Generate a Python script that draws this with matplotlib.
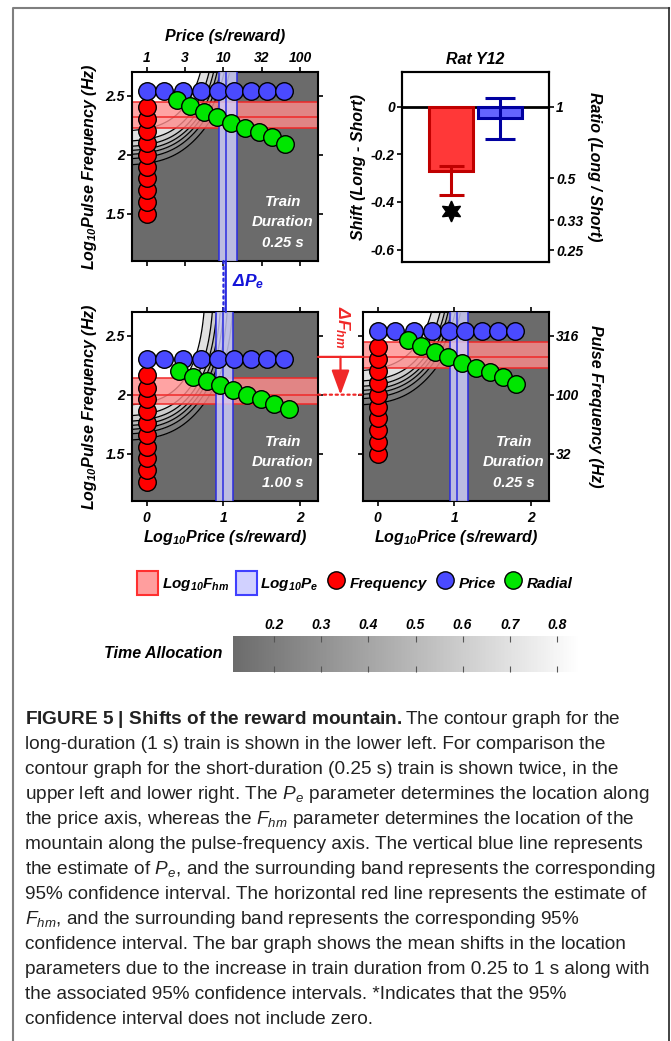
import matplotlib
matplotlib.use("Agg")
import matplotlib.pyplot as plt
import numpy as np
from matplotlib import transforms
from matplotlib.cm import ScalarMappable
from matplotlib.colors import LinearSegmentedColormap, Normalize
from matplotlib.lines import Line2D
from matplotlib.patches import ConnectionPatch, Patch

plt.rcParams["font.family"] = "Liberation Sans"
plt.rcParams["mathtext.fontset"] = "custom"
plt.rcParams["mathtext.rm"] = "Liberation Sans:style=normal:weight=normal"
plt.rcParams["mathtext.it"] = "Liberation Sans:style=italic:weight=normal"
plt.rcParams["mathtext.bf"] = "Liberation Sans:style=normal:weight=bold"
plt.rcParams["mathtext.default"] = "regular"

# fitted location parameters (log10 units) and 95% CIs
fhm_short, fhm_short_ci = 2.32, (2.23, 2.45)
pe_short, pe_short_ci = 1.03, (0.94, 1.17)
fhm_long, fhm_long_ci = 2.00, (1.92, 2.14)
pe_long, pe_long_ci = 1.00, (0.905, 1.13)

# sweeps, 0.25 s train
freq_sweep_short = [1.50, 1.60, 1.70, 1.80, 1.90, 2.00, 2.10, 2.20, 2.30, 2.40]
price_sweep_x = [0.0, 0.22, 0.47, 0.71, 0.93, 1.14, 1.36, 1.57, 1.79]
price_level_short = 2.54
radial_x_short = [0.40, 0.57, 0.75, 0.92, 1.10, 1.28, 1.46, 1.63, 1.80]
radial_y_short = [2.46, 2.41, 2.36, 2.32, 2.27, 2.23, 2.19, 2.15, 2.09]

# sweeps, 1.00 s train
freq_sweep_long = [1.26, 1.36, 1.46, 1.56, 1.66, 1.76, 1.86, 1.96, 2.06, 2.17]
price_level_long = 2.30
radial_x_long = [0.42, 0.60, 0.78, 0.95, 1.13, 1.31, 1.49, 1.66, 1.85]
radial_y_long = [2.20, 2.15, 2.12, 2.08, 2.04, 2.00, 1.96, 1.92, 1.88]

# mountain surface shape
slope_freq = 1.6
slope_ta = 6.0
log_pmin = 0.44
ta_min, ta_max = 0.11, 0.85
ta_levels = [0.2, 0.3, 0.4, 0.5, 0.6, 0.7, 0.8]

# shifts (long - short)
shift_x = [1, 2]
shift_mean = [-0.27, -0.05]
shift_lo = [-0.373, -0.136]
shift_hi = [-0.249, 0.035]
star_y = -0.44
ratio_ticks = [1, 0.5, 0.333, 0.25]
ratio_labels = ["1", "0.5", "0.33", "0.25"]

price_ticks_log = [0, 0.5, 1, 1.5, 2]
freq_ticks_log = [1.5, 2, 2.5]

RED = "#ff0000"
BLUE = "#4a4aff"
GREEN = "#00e600"
BAND_RED = (1.0, 0.55, 0.55)
BAND_BLUE = (0.82, 0.82, 1.0)
LINE_RED = "#f02828"
LINE_BLUE = "#2a2ae0"
bi = dict(fontweight="bold", fontstyle="italic")

ta_cmap = LinearSegmentedColormap.from_list("ta", ["#6b6b6b", "#ffffff"])
ta_norm = Normalize(ta_min, ta_max)


def time_allocation(logp, logf, fhm, pe):
    log_i = -np.log10(1 + 10 ** (-slope_freq * (logf - fhm)))
    log_ps = 0.5 * np.log10(10 ** (2 * log_pmin) + 10 ** (2 * logp))
    log_pse = 0.5 * np.log10(10 ** (2 * log_pmin) + 10 ** (2 * pe))
    z = log_i - log_ps + log_pse
    return ta_min + (ta_max - ta_min) / (1 + 10 ** (-slope_ta * z))


def draw_mountain(ax, fhm, fhm_ci, pe, pe_ci, freq_sweep, price_level,
                  radial_x, radial_y, duration):
    ax.set_xlim(-0.19, 2.23)
    ax.set_ylim(1.10, 2.70)
    P, F = np.meshgrid(np.linspace(-0.19, 2.23, 400), np.linspace(1.10, 2.70, 400))
    ta = time_allocation(P, F, fhm, pe)
    bounds = [ta_min - 0.01] + ta_levels + [ta_max + 0.01]
    fills = ([ta_cmap(ta_norm(ta_min))] + [ta_cmap(ta_norm(v)) for v in ta_levels[:-1]]
             + [ta_cmap(ta_norm(ta_max))])
    ax.contourf(P, F, ta, levels=bounds, colors=fills, zorder=0)
    ax.contour(P, F, ta, levels=ta_levels, colors="k", linewidths=0.9, zorder=1)

    ax.axhspan(*fhm_ci, color=BAND_RED, alpha=0.8, lw=0, zorder=2)
    for y in (fhm_ci[0], fhm, fhm_ci[1]):
        ax.axhline(y, color=LINE_RED, lw=1.1, zorder=2)
    ax.axvspan(*pe_ci, color=BAND_BLUE, alpha=0.8, lw=0, zorder=3)
    for x in (pe_ci[0], pe, pe_ci[1]):
        ax.axvline(x, color=LINE_BLUE, lw=1.1, zorder=3)

    mk = dict(s=160, edgecolors="k", linewidths=1.0, zorder=5)
    ax.scatter(np.zeros(len(freq_sweep)), freq_sweep, c=RED, **mk)
    ax.scatter(price_sweep_x, np.full(len(price_sweep_x), price_level), c=BLUE, **mk)
    ax.scatter(radial_x, radial_y, c=GREEN, **mk)

    ax.text(0.81, 0.205, f"Train\nDuration\n{duration}", transform=ax.transAxes,
            ha="center", va="center", color="white", fontsize=10.8, linespacing=1.6,
            zorder=6, **bi)
    for s in ax.spines.values():
        s.set_linewidth(1.5)
    ax.tick_params(direction="out", length=3.5, width=1.2, top=True, right=True,
                   labelsize=10, pad=1.5)
    ax.set_xticks(price_ticks_log)
    ax.set_yticks(freq_ticks_log)


fig = plt.figure(figsize=(6.71, 10.41), dpi=100)
W, H = 671, 1041


def px_axes(x0, y0, x1, y1):
    return fig.add_axes([x0 / W, 1 - y1 / H, (x1 - x0) / W, (y1 - y0) / H])


ax_ul = px_axes(132, 72, 318, 261)
ax_ll = px_axes(132, 312, 318, 501)
ax_lr = px_axes(363, 312, 549, 501)
ax_bar = px_axes(402, 72, 549, 262)

draw_mountain(ax_ul, fhm_short, fhm_short_ci, pe_short, pe_short_ci, freq_sweep_short,
              price_level_short, radial_x_short, radial_y_short, "0.25 s")
draw_mountain(ax_ll, fhm_long, fhm_long_ci, pe_long, pe_long_ci, freq_sweep_long,
              price_level_long, radial_x_long, radial_y_long, "1.00 s")
draw_mountain(ax_lr, fhm_short, fhm_short_ci, pe_short, pe_short_ci, freq_sweep_short,
              price_level_short, radial_x_short, radial_y_short, "0.25 s")

freq_labels = [f"{v:g}" for v in freq_ticks_log]
lab = dict(fontsize=11.5, **bi)

ax_ul.set_xticks(price_ticks_log, [f"{10 ** v:.0f}" for v in price_ticks_log], **bi)
ax_ul.tick_params(labeltop=True, labelbottom=False)
ax_ul.xaxis.set_label_position("top")
ax_ul.set_xlabel("Price (s/reward)", labelpad=7, **lab)
ax_ul.set_yticks(freq_ticks_log, freq_labels, **bi)
ax_ul.set_ylabel("Log$_{10}$Pulse Frequency (Hz)", labelpad=5, **lab)

ax_ll.set_xticks([0, 1, 2], ["0", "1", "2"], **bi)
ax_ll.set_yticks(freq_ticks_log, freq_labels, **bi)
ax_ll.set_ylabel("Log$_{10}$Pulse Frequency (Hz)", labelpad=5, **lab)
ax_ll.set_xlabel("Log$_{10}$Price (s/reward)", labelpad=2, **lab)
ax_ll.tick_params(pad=4, axis="x")

ax_lr.set_xticks([0, 1, 2], ["0", "1", "2"], **bi)
ax_lr.set_yticks(freq_ticks_log, [f"{10 ** v:.0f}" for v in freq_ticks_log], **bi)
ax_lr.tick_params(labelleft=False, labelright=True)
ax_lr.tick_params(pad=4, axis="x")
ax_lr.yaxis.set_label_position("right")
ax_lr.set_ylabel("Pulse Frequency (Hz)", rotation=270, va="bottom", labelpad=6, **lab)
ax_lr.set_xlabel("Log$_{10}$Price (s/reward)", labelpad=2, **lab)

# bar graph of the shifts
bar_fill = ["#ff3838", "#6464ff"]
bar_edge = ["#c00000", "#0000a0"]
caps = [9, 11]
ax_bar.axhline(0, color="k", lw=2, zorder=1)
for x, m, lo, hi, fc, ec, cs in zip(shift_x, shift_mean, shift_lo, shift_hi,
                                    bar_fill, bar_edge, caps):
    ax_bar.bar(x, m, width=0.88, color=fc, edgecolor=ec, linewidth=2.2, zorder=2)
    ax_bar.errorbar(x, m, yerr=[[m - lo], [hi - m]], fmt="none", ecolor=ec,
                    elinewidth=2.2, capsize=cs, capthick=2.2, zorder=3)
ax_bar.plot(shift_x[0], star_y, marker=(6, 1, 0), color="k", markersize=15, ls="")
ax_bar.set_xlim(0, 3)
ax_bar.set_ylim(-0.652, 0.145)
ax_bar.set_xticks([])
ax_bar.set_yticks([0, -0.2, -0.4, -0.6], ["0", "-0.2", "-0.4", "-0.6"], **bi)
ax_bar.tick_params(direction="out", length=3.5, width=1.2, labelsize=10, pad=1.5)
ax_bar.set_ylabel("Shift (Long - Short)", labelpad=4, **lab)
ax_bar.set_title("Rat Y12", pad=6, **lab)
for s in ax_bar.spines.values():
    s.set_linewidth(1.5)
ax_ratio = ax_bar.twinx()
ax_ratio.set_ylim(ax_bar.get_ylim())
ax_ratio.set_yticks(np.log10(ratio_ticks), ratio_labels, **bi)
ax_ratio.tick_params(direction="out", length=3.5, width=1.2, labelsize=10, pad=1.5)
ax_ratio.set_ylabel("Ratio (Long / Short)", rotation=270, va="bottom", labelpad=3, **lab)
for s in ax_ratio.spines.values():
    s.set_linewidth(1.5)

# Pe shift between the two left panels
for pe, ls in ((pe_short, "-"), (pe_long, ":")):
    con = ConnectionPatch(
        xyA=(pe, 0), coordsA=transforms.blended_transform_factory(ax_ul.transData, ax_ul.transAxes),
        xyB=(pe, 1), coordsB=transforms.blended_transform_factory(ax_ll.transData, ax_ll.transAxes),
        color=LINE_BLUE, lw=1.6, ls=ls)
    fig.add_artist(con)
fig.text(232 / W, 1 - 282 / H, "Δ$P_e$", color="#1414d8", fontsize=12.5,
         ha="left", va="center", **bi)

# Fhm shift between the two lower panels
for fhm, ls in ((fhm_short, "-"), (fhm_long, ":")):
    con = ConnectionPatch(
        xyA=(1, fhm), coordsA=transforms.blended_transform_factory(ax_ll.transAxes, ax_ll.transData),
        xyB=(0, fhm), coordsB=transforms.blended_transform_factory(ax_lr.transAxes, ax_lr.transData),
        color=LINE_RED, lw=1.6, ls=ls)
    fig.add_artist(con)
gap_x = (ax_ll.get_position().x1 + ax_lr.get_position().x0) / 2
gap = transforms.blended_transform_factory(fig.transFigure, ax_ll.transData)
ax_ll.annotate("", xy=(gap_x, fhm_long), xytext=(gap_x, fhm_short), xycoords=gap,
               textcoords=gap, annotation_clip=False,
               arrowprops=dict(arrowstyle="-|>,head_length=1.5,head_width=0.55",
                               mutation_scale=10, color=LINE_RED, lw=1.6,
                               shrinkA=0, shrinkB=0))
fig.text(gap_x + 2 / W, 1 - 327 / H, "Δ$F_{hm}$", color=LINE_RED, fontsize=12.5,
         rotation=270, ha="center", va="center", **bi)

# legend row
handles = [
    Patch(facecolor=(1.0, 0.62, 0.62), edgecolor="#ff3030", lw=1.5),
    Patch(facecolor=BAND_BLUE, edgecolor="#4040ff", lw=1.5),
    Line2D([], [], ls="", marker="o", markersize=12.5, markerfacecolor=RED, markeredgecolor="k"),
    Line2D([], [], ls="", marker="o", markersize=12.5, markerfacecolor=BLUE, markeredgecolor="k"),
    Line2D([], [], ls="", marker="o", markersize=12.5, markerfacecolor=GREEN, markeredgecolor="k"),
]
labels = ["Log$_{10}$F$_{hm}$", "Log$_{10}$P$_e$", "Frequency", "Price", "Radial"]
fig.legend(handles, labels, ncol=5, loc="center", bbox_to_anchor=(355 / W, 1 - 583 / H),
           frameon=False, prop=dict(size=11, weight="bold", style="italic"),
           handlelength=1.4, handleheight=2.0, handletextpad=0.2, columnspacing=0.45,
           borderpad=0)

# colour scale
cax = px_axes(233, 636, 578, 672)
cb = fig.colorbar(ScalarMappable(ta_norm, ta_cmap), cax=cax, orientation="horizontal")
cb.outline.set_visible(False)
cax.set_xlim(0.1125, 0.845)
cax.set_xticks(ta_levels, [f"{v:.1f}" for v in ta_levels], **bi)
cax.tick_params(top=True, bottom=True, labeltop=True, labelbottom=False, direction="in",
                length=4, width=0.8, color="#555555", labelsize=10, pad=3)
fig.text(222 / W, 1 - 654 / H, "Time Allocation", ha="right", va="center",
         fontsize=11.5, **bi)

# frame
fig.add_artist(Line2D([13 / W, 13 / W, 669 / W], [0, 1 - 8 / H, 1 - 8 / H],
                      color="#7f7f7f", lw=1.5, transform=fig.transFigure))
fig.add_artist(Line2D([669 / W, 669 / W], [1 - 8 / H, 0], color="#222222", lw=1.2,
                      transform=fig.transFigure))

caption_lines = [
    r"$\mathbf{FIGURE\ 5\ |\ Shifts\ of\ the\ reward\ mountain.}$The contour graph for the",
    "long-duration (1 s) train is shown in the lower left. For comparison the",
    "contour graph for the short-duration (0.25 s) train is shown twice, in the",
    r"upper left and lower right. The $\mathit{P_e}$ parameter determines the location along",
    r"the price axis, whereas the $\mathit{F_{hm}}$ parameter determines the location of the",
    "mountain along the pulse-frequency axis. The vertical blue line represents",
    r"the estimate of $\mathit{P_e}$, and the surrounding band represents the corresponding",
    "95% confidence interval. The horizontal red line represents the estimate of",
    r"$\mathit{F_{hm}}$, and the surrounding band represents the corresponding 95%",
    "confidence interval. The bar graph shows the mean shifts in the location",
    "parameters due to the increase in train duration from 0.25 to 1 s along with",
    "the associated 95% confidence intervals. *Indicates that the 95%",
    "confidence interval does not include zero.",
]
for i, line in enumerate(caption_lines):
    fig.text(25 / W, 1 - (723.5 + 25.05 * i) / H, line, ha="left", va="baseline",
             fontsize=13.7, color="#222222")

fig.savefig("out.png", dpi=100)
